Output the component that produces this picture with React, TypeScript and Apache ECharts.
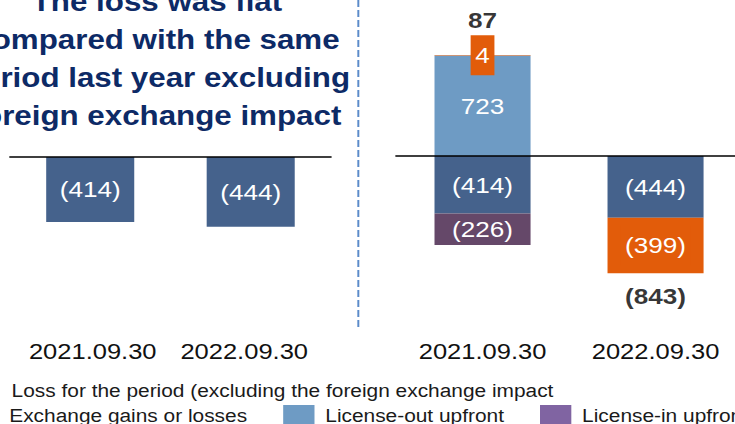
import React, { useEffect, useRef } from "react";
import * as echarts from "echarts";

// ---------- data ----------
const categories = ["2021.09.30", "2022.09.30"];
const lossExclFx = [-414, -444];
const licenseOut = [723, null];
const licenseIn = [-226, null];
const fxGainLoss = [4, -399];
const titleLines = [
  "The loss was flat",
  "compared with the same",
  "period last year excluding",
  "foreign exchange impact",
];
const NAME_LOSS = "Loss for the period (excluding the foreign exchange impact";
const NAME_FX = "Exchange gains or losses";
const NAME_OUT = "License-out upfront";
const NAME_IN = "License-in upfront";

// ---------- styles ----------
const S = 1.16; // reference is horizontally stretched
const W = 735 / S;
const H = 424;
const FONT = '"Liberation Sans", Arial, sans-serif';
const DARK = "#45628C";
const LIGHT = "#6E9BC4";
const PURPLE = "#654869";
const PURPLE_LEGEND = "#8064A2";
const ORANGE = "#E25C0A";
const NAVY = "#0D2A66";

const fmt = (v: number) => (v < 0 ? `(${Math.abs(v)})` : String(v));

export default function App() {
  const ref = useRef<HTMLDivElement>(null);

  useEffect(() => {
    if (!ref.current) return;
    const chart = echarts.init(ref.current, undefined, { renderer: "svg" });

    const rightSeries = [lossExclFx, licenseOut, licenseIn, fxGainLoss];
    const pos = categories.map((_, i) =>
      rightSeries.reduce((s, arr) => s + ((arr[i] as number) > 0 ? (arr[i] as number) : 0), 0)
    );
    const neg = categories.map((_, i) =>
      rightSeries.reduce((s, arr) => s + ((arr[i] as number) < 0 ? (arr[i] as number) : 0), 0)
    );
    const net = categories.map((_, i) => pos[i] + neg[i]);

    const barLabel = {
      show: true,
      position: "inside",
      color: "#fff",
      fontSize: 22.5,
      fontFamily: FONT,
      formatter: (p: any) => fmt(p.value),
    };

    const legendText = (padLeft: number) => ({
      fontSize: 18,
      color: "#1a1a1a",
      fontFamily: FONT,
      padding: [0, 0, 0, padLeft],
    });

    const legendCommon = {
      orient: "horizontal",
      itemWidth: 27,
      padding: 0,
      width: 900,
      icon: "rect",
      selectedMode: false,
    };

    const option: any = {
      animation: false,
      backgroundColor: "#fff",
      textStyle: { fontFamily: FONT },
      grid: [
        { left: 8.6, width: 276.7, top: 0, height: 314, outerBoundsMode: "none", containLabel: false },
        { left: 341.4, width: 298.3, top: 3.1, height: 305.8, outerBoundsMode: "none", containLabel: false },
      ],
      xAxis: [
        {
          type: "category",
          gridIndex: 0,
          data: [
            { value: categories[0], textStyle: { padding: [0, 0, 0, 4.3] } },
            { value: categories[1], textStyle: { padding: [0, 11.2, 0, 0] } },
          ],
          z: 5,
          axisLine: { onZero: true, lineStyle: { color: "#000", width: 1.6 } },
          axisTick: { show: false },
          axisLabel: {
            interval: 0,
            hideOverlap: false,
            fontSize: 22,
            color: "#111",
            fontFamily: FONT,
            margin: 26,
          },
        },
        {
          type: "category",
          gridIndex: 1,
          data: categories,
          z: 5,
          axisLine: { onZero: true, lineStyle: { color: "#000", width: 1.6 } },
          axisTick: { show: false },
          axisLabel: {
            interval: 0,
            hideOverlap: false,
            fontSize: 22,
            color: "#111",
            fontFamily: FONT,
            margin: 31,
          },
        },
      ],
      yAxis: [
        { type: "value", gridIndex: 0, min: -1000, max: 1000, show: false, splitLine: { show: false } },
        { type: "value", gridIndex: 1, min: -1100, max: 1100, show: false, splitLine: { show: false } },
      ],
      legend: [
        {
          ...legendCommon,
          data: [NAME_LOSS],
          left: -30.3,
          top: 381.2,
          itemHeight: 19,
          textStyle: legendText(8.3),
        },
        {
          ...legendCommon,
          data: [NAME_FX, NAME_OUT, { name: NAME_IN, itemStyle: { color: PURPLE_LEGEND } }],
          left: -28.3,
          top: 405,
          itemGap: 31,
          itemHeight: 21,
          textStyle: legendText(4.3),
        },
      ],
      series: [
        {
          type: "bar",
          name: NAME_LOSS,
          xAxisIndex: 0,
          yAxisIndex: 0,
          data: lossExclFx,
          barWidth: 75.9,
          itemStyle: { color: DARK },
          label: barLabel,
        },
        {
          type: "bar",
          name: NAME_LOSS,
          xAxisIndex: 1,
          yAxisIndex: 1,
          stack: "r",
          data: lossExclFx,
          barWidth: 82.8,
          itemStyle: { color: DARK },
          label: barLabel,
        },
        {
          type: "bar",
          name: NAME_OUT,
          xAxisIndex: 1,
          yAxisIndex: 1,
          stack: "r",
          data: licenseOut,
          barWidth: 82.8,
          itemStyle: { color: LIGHT },
          label: barLabel,
        },
        {
          type: "bar",
          name: NAME_IN,
          xAxisIndex: 1,
          yAxisIndex: 1,
          stack: "r",
          data: licenseIn,
          barWidth: 82.8,
          itemStyle: { color: PURPLE },
          label: barLabel,
        },
        {
          type: "bar",
          name: NAME_FX,
          xAxisIndex: 1,
          yAxisIndex: 1,
          stack: "r",
          data: fxGainLoss,
          barWidth: 82.8,
          itemStyle: { color: ORANGE },
          label: { ...barLabel, backgroundColor: ORANGE, padding: [8.5, 4] },
        },
        {
          type: "scatter",
          name: "total",
          xAxisIndex: 1,
          yAxisIndex: 1,
          symbolSize: 1,
          itemStyle: { color: "rgba(0,0,0,0)" },
          z: 10,
          data: net.map((v, i) =>
            v >= 0
              ? { value: [i, pos[i]], label: { position: "top", distance: 23 } }
              : { value: [i, neg[i]], label: { position: "bottom", distance: 11 } }
          ),
          label: {
            show: true,
            color: "#000",
            fontWeight: "bold",
            fontSize: 22.5,
            fontFamily: FONT,
            formatter: (p: any) => fmt(net[p.dataIndex]),
          },
        },
      ],
      graphic: [
        {
          type: "line",
          shape: { x1: 308.9, y1: 0, x2: 308.9, y2: 328 },
          style: { stroke: "#5B8BC9", lineWidth: 1.7, lineDash: [7, 3] },
          silent: true,
        },
        ...titleLines.map((t, i) => ({
          type: "text",
          x: 135.3,
          y: 1.5 + i * 38,
          silent: true,
          style: {
            text: t,
            fill: NAVY,
            fontSize: 27,
            fontWeight: "bold",
            fontFamily: FONT,
            align: "center",
            verticalAlign: "middle",
          },
        })),
      ],
    };

    chart.setOption(option);
    return () => chart.dispose();
  }, []);

  return (
    <div
      style={{
        position: "fixed",
        left: 0,
        top: 0,
        width: 735,
        height: H,
        overflow: "hidden",
        background: "#fff",
      }}
    >
      <div
        ref={ref}
        style={{
          width: W,
          height: H,
          transform: `scaleX(${S})`,
          transformOrigin: "0 0",
        }}
      />
    </div>
  );
}
